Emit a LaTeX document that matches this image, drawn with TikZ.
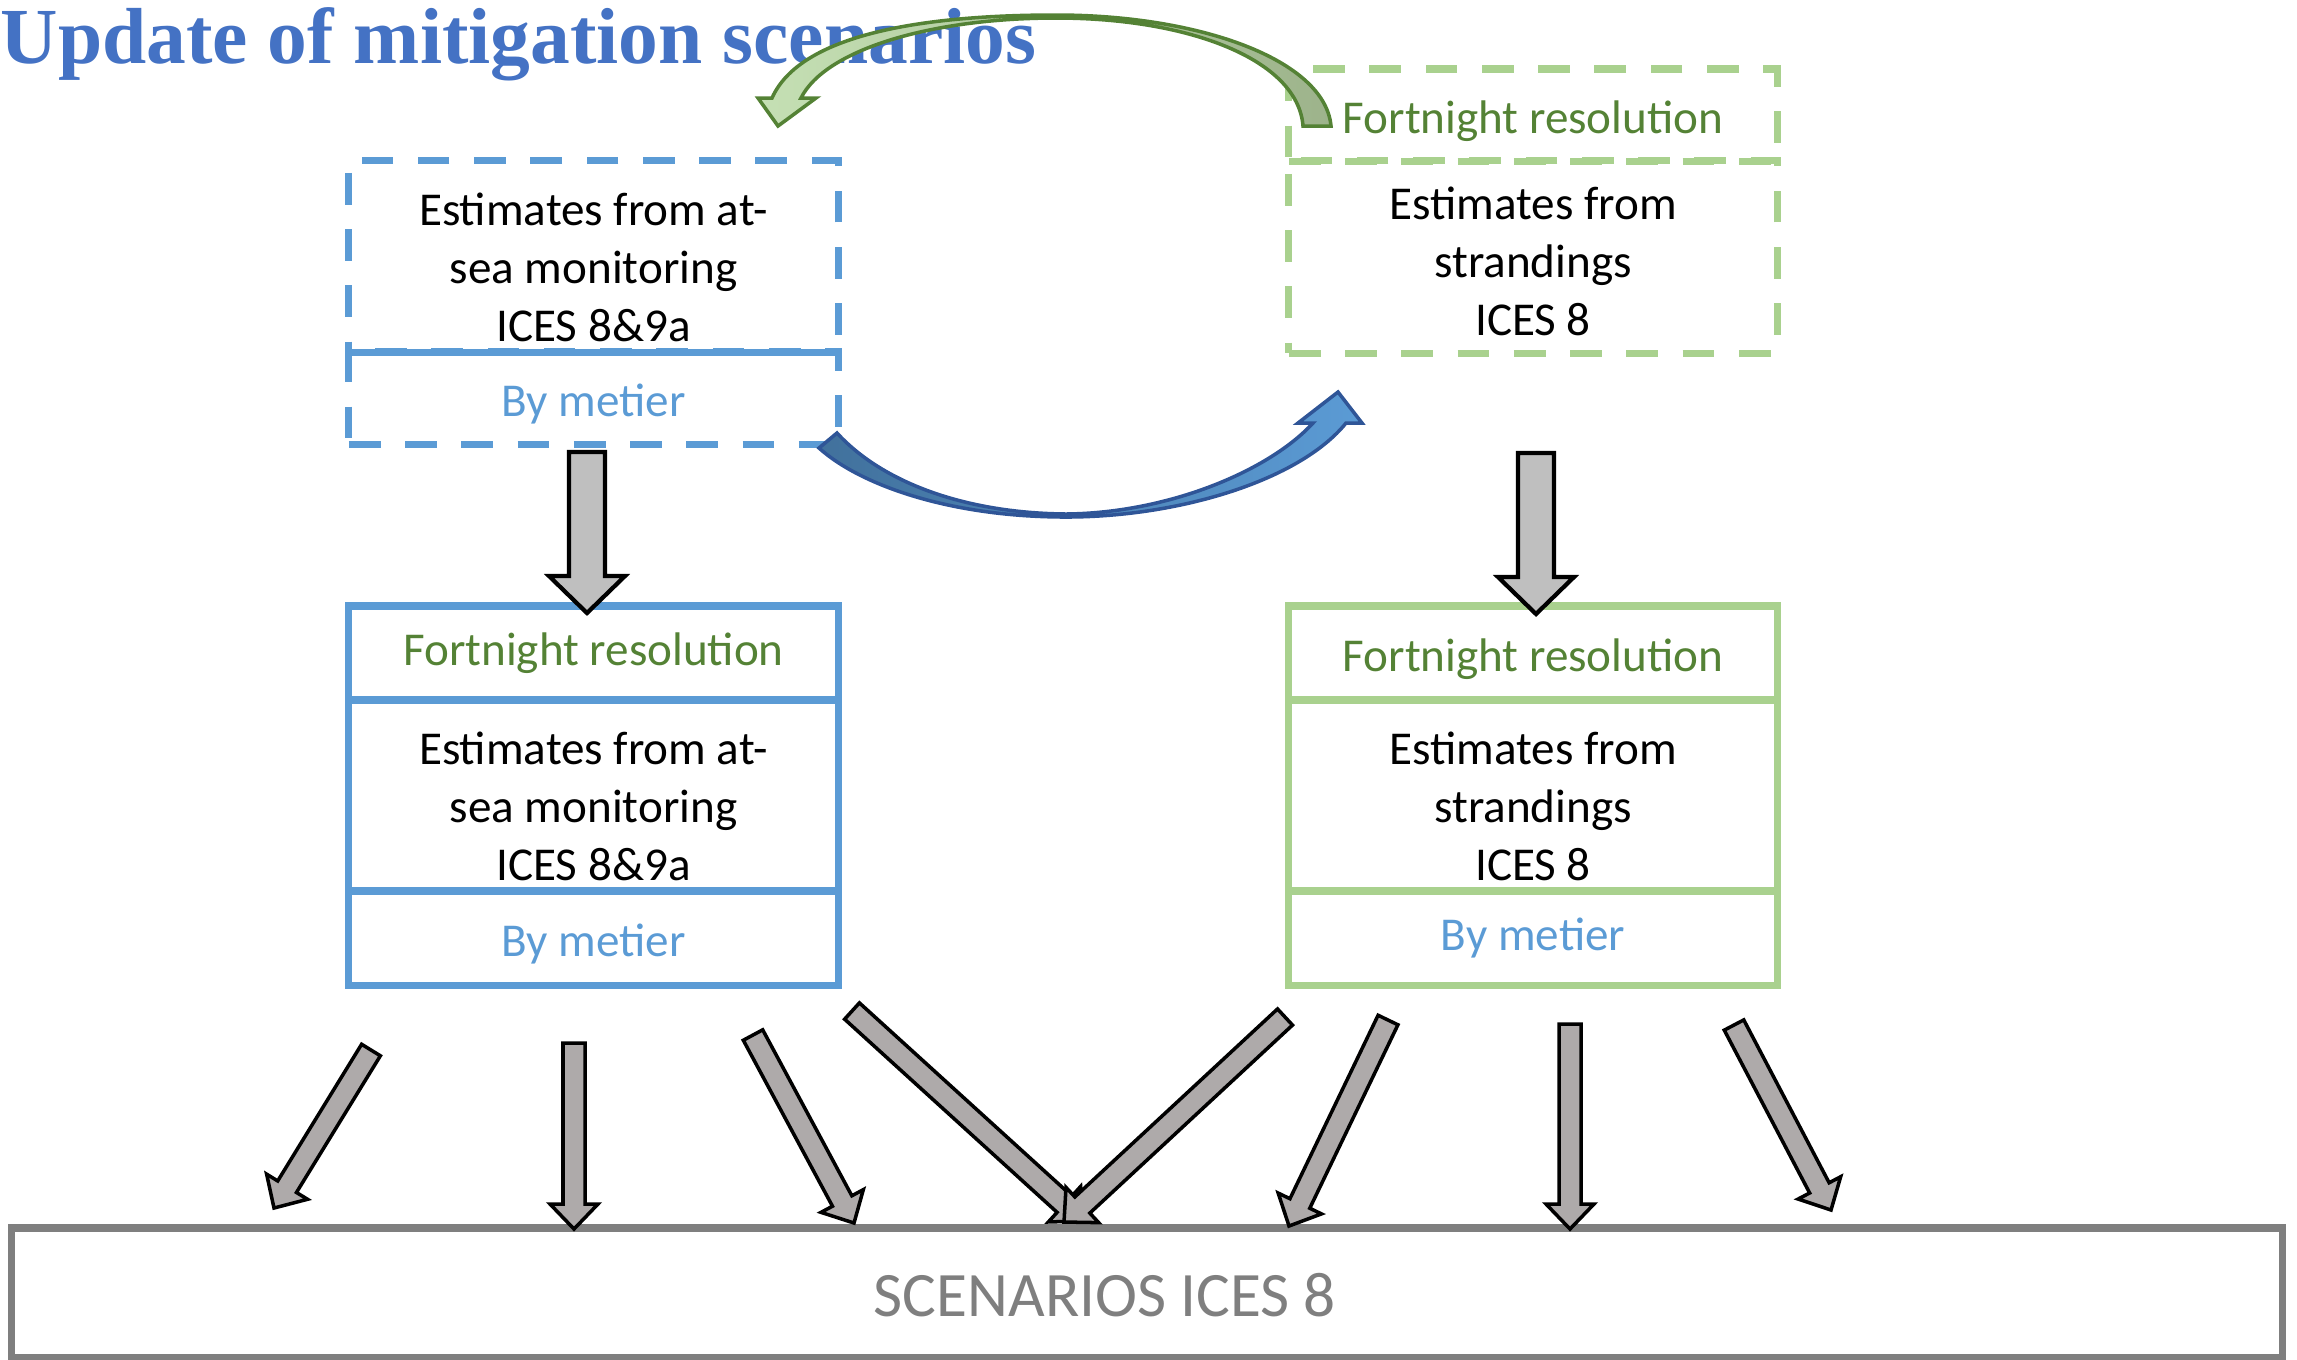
\documentclass[tikz,border=0pt]{standalone}
\usepackage{fontspec}
\setmainfont{Carlito}
\newfontfamily\titlefont{Liberation Serif}
\usetikzlibrary{calc}
\definecolor{boxblue}{HTML}{5B9BD5}
\definecolor{boxgreen}{HTML}{A9D18E}
\definecolor{txtgreen}{HTML}{548235}
\definecolor{ttlblue}{HTML}{4472C4}
\definecolor{scengray}{HTML}{7F7F7F}
\definecolor{arrgray}{HTML}{AEAAAA}
\definecolor{biggray}{HTML}{BFBFBF}
\definecolor{curvedark}{HTML}{41719C}
\definecolor{curveline}{HTML}{2F5597}
\definecolor{leaflight}{HTML}{C5E0B4}
\definecolor{leafdark}{HTML}{9DB38B}
\newcommand{\blockarrow}[6][]{%
  \coordinate (bahead) at ($(#3)!#6!(#2)$);
  \draw[#1] ($(#2)!#4!90:(#3)$) -- ($(bahead)!#4!90:(#3)$) -- ($(bahead)!#5!90:(#3)$) -- (#3)
    -- ($(bahead)!#5!-90:(#3)$) -- ($(bahead)!#4!-90:(#3)$) -- ($(#2)!#4!-90:(#3)$) -- cycle;}
\newcommand{\toppad}[1][0.55cm]{\rule{0pt}{#1}}

\begin{document}
\begin{tikzpicture}[x=0.01cm,y=-0.01cm,
  txt/.style={font=\fontsize{13.4}{16.5}\selectfont},
  lower/.style={execute at begin node={\rule{0pt}{0.45cm}}},
  bbox/.style={draw=boxblue,line width=2pt,minimum width=4.89cm,inner sep=0pt,outer sep=0pt,align=center,txt},
  gbox/.style={draw=boxgreen,line width=2pt,minimum width=4.88cm,inner sep=0pt,outer sep=0pt,align=center,txt},
  dsh/.style={dash pattern=on 9pt off 7pt},
  fort/.style={text=txtgreen},
  met/.style={text=boxblue},
  garr/.style={fill=arrgray,draw=black,line width=1pt,line join=miter},
  barr/.style={fill=biggray,draw=black,line width=1.2pt,line join=miter}
]
\useasboundingbox (0,0) rectangle (2297,1359);

\node[anchor=base west,inner sep=0pt,text=ttlblue,font=\titlefont\bfseries\fontsize{22.6}{27}\selectfont] (ttl) at (0,63) {Update of mitigation scenarios};

% upper row, dashed
\node[bbox,dsh,minimum height=1.91cm] (a1) at (593.5,256.5) {\toppad Estimates from at-\\sea monitoring\\ICES 8\&9a};
\node[bbox,dsh,met,lower,minimum height=0.92cm] (a2) at (593.5,398) {By metier};
\node[gbox,dsh,fort,lower,minimum height=0.92cm] (b1) at (1533,115) {Fortnight resolution};
\node[gbox,dsh,minimum height=1.92cm] (b2) at (1533,257) {\toppad[0.42cm]Estimates from\\strandings\\ICES 8};

% lower row
\node[bbox,fort,minimum height=0.94cm] (c1) at (593.5,653) {Fortnight resolution};
\node[bbox,minimum height=1.91cm] (c2) at (593.5,795.5) {\toppad Estimates from at-\\sea monitoring\\ICES 8\&9a};
\node[bbox,met,lower,minimum height=0.94cm] (c3) at (593.5,938) {By metier};
\node[gbox,fort,lower,minimum height=0.94cm] (d1) at (1533,653) {Fortnight resolution};
\node[gbox,minimum height=1.91cm] (d2) at (1533,795.5) {\toppad Estimates from\\strandings\\ICES 8};
\node[gbox,met,minimum height=0.94cm] (d3) at (1533,938) {By metier};

\node[draw=scengray,line width=2pt,minimum width=22.7cm,minimum height=1.29cm] (sc) at (1147,1292.5) {};
\node[text=scengray,font=\fontsize{18}{22}\selectfont] (sctext) at (1105,1295) {SCENARIOS ICES 8};

% curved arrows
\draw[left color=curvedark,right color=boxblue,draw=curveline,line width=1pt]
  (819,448) .. controls (860,485) and (950,517) .. (1066,517)
  .. controls (1180,517) and (1300,480) .. (1346,423)
  -- (1362,423) -- (1338,392) -- (1298,423) -- (1313,423)
  .. controls (1270,470) and (1170,513) .. (1066,514)
  .. controls (960,513) and (880,480) .. (837,433) -- cycle;
\draw[left color=leaflight,right color=leafdark,draw=txtgreen,line width=1pt]
  (1331,126) .. controls (1325,60) and (1200,15) .. (1056,15)
  .. controls (920,15) and (800,35) .. (772,98)
  -- (758,98) -- (778,126) -- (816,98) -- (801,98)
  .. controls (825,50) and (930,18) .. (1056,18)
  .. controls (1190,18) and (1298,60) .. (1303,126) -- cycle;

% block arrows
\coordinate (ta) at (587,452);  \coordinate (ha) at (587,613);
\coordinate (tb) at (1536,453); \coordinate (hb) at (1536,614);
\blockarrow[barr]{ta}{ha}{0.18cm}{0.38cm}{0.37cm}
\blockarrow[barr]{tb}{hb}{0.18cm}{0.38cm}{0.37cm}

\coordinate (l1) at (371,1050);  \coordinate (s1) at (274,1208);
\coordinate (l2) at (574,1043);  \coordinate (s2) at (574,1229);
\coordinate (l3) at (753,1035);  \coordinate (s3) at (854,1223);
\coordinate (l4) at (852,1011);  \coordinate (s4) at (1083,1221);
\coordinate (l5) at (1285,1017); \coordinate (s5) at (1064,1222);
\coordinate (l6) at (1388,1020); \coordinate (s6) at (1289,1226);
\coordinate (l7) at (1570,1024); \coordinate (s7) at (1570,1229);
\coordinate (l8) at (1734,1025); \coordinate (s8) at (1831,1210);
\foreach \i in {1,...,8}{
  \blockarrow[garr]{l\i}{s\i}{0.11cm}{0.24cm}{0.25cm}
}
\end{tikzpicture}
\end{document}
